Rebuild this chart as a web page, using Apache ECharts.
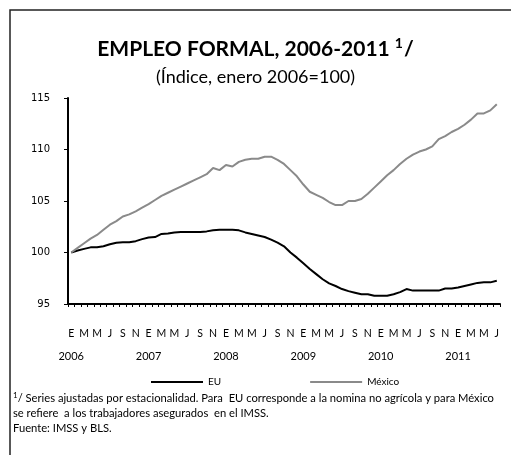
<!DOCTYPE html>
<html>
<head>
<meta charset="utf-8">
<script src="https://cdn.jsdelivr.net/npm/echarts@6/dist/echarts.min.js"></script>
<style>
  html, body { margin: 0; padding: 0; background: #fff; }
  #chart { width: 511px; height: 455px; }
</style>
</head>
<body>
<div id="chart"></div>
<script>
// meses: enero 2006 - julio 2011
var monthLetters = ['E', 'F', 'M', 'A', 'M', 'J', 'J', 'A', 'S', 'O', 'N', 'D'];
var years = ['2006', '2007', '2008', '2009', '2010', '2011'];
var nMonths = 67;

var eu = [
  100.0, 100.2, 100.35, 100.5, 100.5, 100.6, 100.8, 100.95, 101.0, 101.0, 101.1, 101.3,
  101.45, 101.5, 101.8, 101.85, 101.95, 102.0, 102.0, 102.0, 102.0, 102.05, 102.15, 102.2,
  102.2, 102.2, 102.15, 101.95, 101.8, 101.65, 101.5, 101.25, 100.95, 100.6, 100.0, 99.5,
  98.95, 98.4, 97.9, 97.4, 97.0, 96.75, 96.45, 96.25, 96.1, 95.95, 95.95, 95.8,
  95.8, 95.8, 95.95, 96.15, 96.45, 96.3, 96.3, 96.3, 96.3, 96.3, 96.5, 96.5,
  96.6, 96.75, 96.9, 97.05, 97.1, 97.1, 97.25
];

var mexico = [
  100.0, 100.45, 100.9, 101.35, 101.7, 102.2, 102.7, 103.05, 103.5, 103.7, 104.0, 104.35,
  104.7, 105.1, 105.5, 105.8, 106.1, 106.4, 106.7, 107.0, 107.3, 107.6, 108.2, 108.0,
  108.5, 108.35, 108.8, 109.0, 109.1, 109.1, 109.3, 109.3, 109.0, 108.6, 108.0, 107.4,
  106.6, 105.9, 105.6, 105.3, 104.9, 104.6, 104.6, 105.0, 105.0, 105.2, 105.7, 106.3,
  106.9, 107.5, 108.0, 108.6, 109.1, 109.5, 109.8, 110.0, 110.3, 111.0, 111.3, 111.7,
  112.0, 112.4, 112.9, 113.5, 113.5, 113.8, 114.4
];

var notas = [
  '{s|1}{n|/ Series ajustadas por estacionalidad. Para  EU corresponde a la nomina no agrícola y para México}',
  '{n|se refiere  a los trabajadores asegurados  en el IMSS.}',
  '{n|Fuente: IMSS y BLS.}'
];

var categories = [];
for (var i = 0; i < nMonths; i++) {
  categories.push(monthLetters[i % 12] + ' ' + years[Math.floor(i / 12)]);
}

var font = 'Lato, "Open Sans", sans-serif';

var myChart = echarts.init(document.getElementById('chart'));

var option = {
  backgroundColor: '#fff',
  animation: false,
  title: {
    left: 'center',
    top: 31,
    itemGap: 8,
    text: '{t|EMPLEO FORMAL, 2006-2011 }{s|1}{t|/}',
    textStyle: {
      rich: {
        t: { fontFamily: font, fontWeight: 'bold', fontSize: 21, color: '#000', lineHeight: 26 },
        s: { fontFamily: font, fontWeight: 'bold', fontSize: 14, color: '#000', verticalAlign: 'top', lineHeight: 26, padding: [0, 1, 10, 0] }
      }
    },
    subtext: '(Índice, enero 2006=100)',
    subtextStyle: { fontFamily: font, fontSize: 18, color: '#000' }
  },
  legend: {
    top: 372,
    left: 145,
    itemWidth: 52,
    itemHeight: 2,
    itemGap: 88,
    textStyle: { fontFamily: font, fontSize: 10, color: '#000' },
    data: ['EU', 'México']
  },
  grid: { left: 68, right: 11, top: 98, bottom: 151 },
  xAxis: {
    type: 'category',
    boundaryGap: true,
    data: categories,
    axisLine: { lineStyle: { color: '#000', width: 2 } },
    axisTick: { show: true, interval: 0, length: 3, lineStyle: { color: '#000' } },
    axisLabel: {
      interval: 0,
      margin: 19,
      formatter: function (v, idx) {
        if (idx % 2 !== 0) return '';
        var s = '{m|' + monthLetters[idx % 12] + '}';
        if (idx % 12 === 0) s += '\n{y|' + years[Math.floor(idx / 12)] + '}';
        return s;
      },
      rich: {
        m: { fontFamily: font, fontSize: 10.5, color: '#000', lineHeight: 22 },
        y: { fontFamily: font, fontSize: 11, color: '#000', lineHeight: 22 }
      }
    },
    splitLine: { show: false }
  },
  yAxis: {
    type: 'value',
    min: 95,
    max: 115,
    interval: 5,
    axisLine: { show: true, lineStyle: { color: '#000', width: 2 } },
    axisTick: { show: true, length: 4, lineStyle: { color: '#000' } },
    axisLabel: { fontFamily: '"DejaVu Sans", sans-serif', fontSize: 10, color: '#000', margin: 18 },
    splitLine: { show: false }
  },
  series: [
    {
      name: 'EU',
      type: 'line',
      data: eu,
      symbol: 'none',
      lineStyle: { color: '#000', width: 2 },
      itemStyle: { color: '#000' }
    },
    {
      name: 'México',
      type: 'line',
      data: mexico,
      symbol: 'none',
      lineStyle: { color: '#8a8a8a', width: 2 },
      itemStyle: { color: '#8a8a8a' }
    }
  ],
  graphic: [
    {
      type: 'rect',
      shape: { x: 10, y: 10, width: 530, height: 470 },
      style: { fill: 'none', stroke: '#222', lineWidth: 1.5 }
    },
    {
      type: 'text',
      left: 13,
      top: 391,
      style: {
        text: notas.join('\n'),
        rich: {
          n: { fontFamily: font, fontSize: 11.2, color: '#000', lineHeight: 15 },
          s: { fontFamily: font, fontSize: 8, color: '#000', verticalAlign: 'top', lineHeight: 15 }
        }
      }
    }
  ]
};

myChart.setOption(option);
</script>
</body>
</html>
